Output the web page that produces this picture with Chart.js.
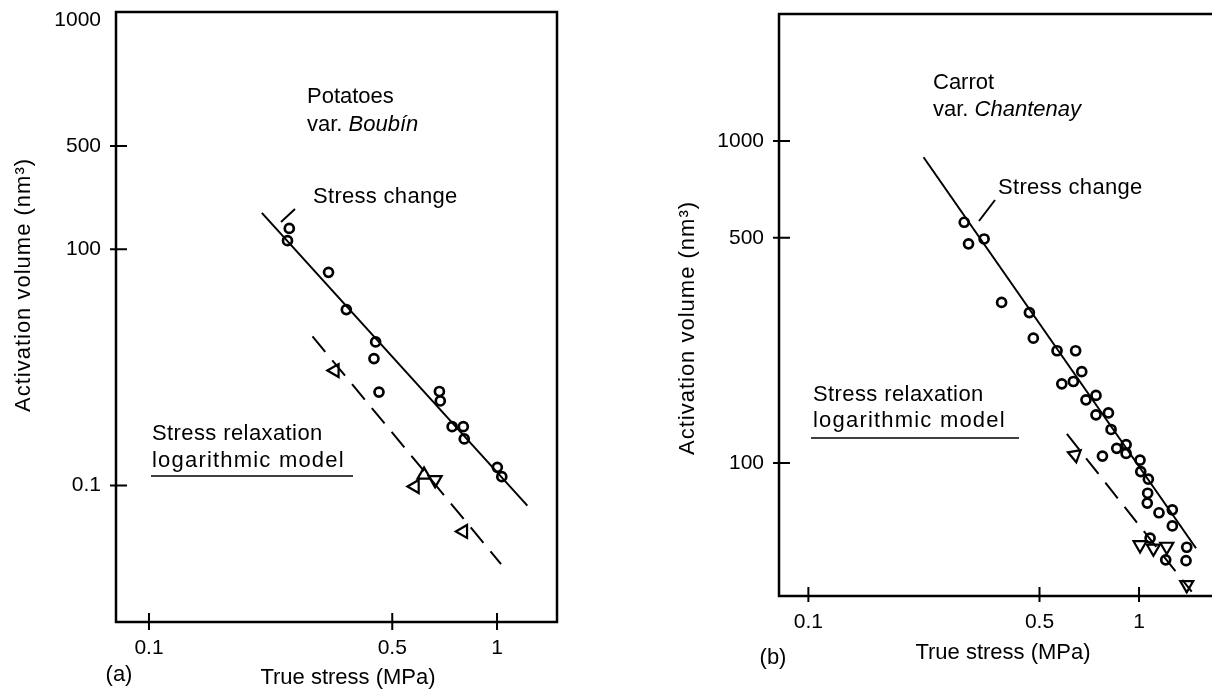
<!DOCTYPE html>
<html>
<head>
<meta charset="utf-8">
<script src="https://cdn.jsdelivr.net/npm/chart.js@4.4.0/dist/chart.umd.min.js"></script>
<style>
  body { margin: 0; background: #fff; overflow: hidden; width: 1212px; height: 690px; position: relative; }
  canvas { position: absolute; top: 0; }
  #chartA { left: 0; }
  #chartB { left: 606px; }
</style>
</head>
<body>
<canvas id="chartA" width="600" height="690"></canvas>
<canvas id="chartB" width="640" height="690"></canvas>
<script>
// (a) Potatoes var. Boubín -- true stress (MPa) vs activation volume (nm3)
const potatoCircleX = [0.253, 0.250, 0.328, 0.369, 0.448, 0.443, 0.458, 0.683, 0.687, 0.743, 0.800, 0.805, 1.002, 1.032];
const potatoCircleY = [138.4, 114.4, 69.8, 39.1, 23.6, 18.2, 10.8, 10.9, 9.4, 6.3, 6.3, 5.2, 3.34, 2.89];
const potatoTriX = [0.342, 0.581, 0.617, 0.664, 0.800];
const potatoTriY = [15.1, 2.48, 2.97, 2.75, 1.23];
const potatoTriTurn = [-90, -90, -120, 180, -90];
const potatoFitX = [0.211, 1.222];
const potatoFitY = [176.5, 1.84];
const potatoRelaxX = [0.295, 1.027];
const potatoRelaxY = [25.7, 0.74];

// (b) Carrot var. Chantenay
const carrotCircleX = [0.296, 0.305, 0.340, 0.384, 0.466, 0.479, 0.565, 0.643, 0.671, 0.633, 0.584, 0.741, 0.691, 0.808, 0.741, 0.823,
  0.914, 0.856, 0.914, 0.775, 1.007, 1.012, 1.067, 1.062, 1.059, 1.149, 1.261, 1.261, 1.080, 1.204, 1.394, 1.387];
const carrotCircleY = [559, 479, 496, 315, 293, 244, 223, 223, 192, 179, 176, 162, 157, 143, 141, 127,
  114, 111, 107, 105, 102, 94, 89, 80.5, 75, 70, 71.5, 63.7, 58.4, 50, 54.7, 49.7];
const carrotTriX = [0.640, 1.007, 1.105, 1.213, 1.394];
const carrotTriY = [105.9, 55.6, 54.3, 55.0, 41.8];
const carrotTriTurn = [170, 180, 180, 180, 180];
const carrotFitX = [0.223, 1.487];
const carrotFitY = [890, 54.3];
const carrotRelaxX = [0.605, 1.443];
const carrotRelaxY = [123, 39.8];

// tick labels (the printed y labels of panel (a) are not log-spaced, so they sit where the figure prints them)
const xTickVals = [0.1, 0.5, 1];
const xTickText = ['0.1', '0.5', '1'];
const potatoYTickVals = [3568, 500, 100, 2.515];
const potatoYTickText = ['1000', '500', '100', '0.1'];
const carrotYTickVals = [1000, 500, 100];
const carrotYTickText = ['1000', '500', '100'];

const FONT = '"Liberation Sans", Arial, sans-serif';
Chart.defaults.font.family = FONT;
Chart.defaults.color = '#000';

const zip = (xs, ys) => xs.map((x, i) => ({ x: x, y: ys[i] }));

function drawText(ctx, t) {
  ctx.save();
  ctx.translate(t.x, t.y);
  if (t.rot) ctx.rotate(t.rot);
  ctx.textBaseline = 'middle';
  ctx.textAlign = 'left';
  ctx.letterSpacing = (t.ls || 0) + 'px';
  const parts = t.parts || [{ s: t.s }];
  const fontOf = p => (p.italic ? 'italic ' : '') + (t.size || 22) + 'px ' + FONT;
  let w = 0;
  parts.forEach(p => { ctx.font = fontOf(p); w += ctx.measureText(p.s).width; });
  let x = t.align === 'center' ? -w / 2 : 0;
  parts.forEach(p => { ctx.font = fontOf(p); ctx.fillText(p.s, x, 0); x += ctx.measureText(p.s).width; });
  ctx.restore();
}

// frame, crossing tick marks and the printed notes
function figureMarks(o) {
  return {
    id: 'figureMarks',
    afterDraw(chart) {
      const { ctx, chartArea: a } = chart;
      const xs = chart.scales.x, ys = chart.scales.y;
      ctx.save();
      ctx.strokeStyle = '#000';
      ctx.fillStyle = '#000';
      ctx.lineWidth = 2.5;
      ctx.strokeRect(a.left, a.top, a.right - a.left, a.bottom - a.top);
      ctx.lineWidth = 2;
      ctx.beginPath();
      xs.ticks.forEach(t => {
        const px = xs.getPixelForValue(t.value);
        ctx.moveTo(px, a.bottom - o.xIn); ctx.lineTo(px, a.bottom + o.xOut);
      });
      ys.ticks.forEach((t, i) => {
        if (!o.yMark[i]) return;
        const py = ys.getPixelForValue(t.value);
        ctx.moveTo(a.left - o.yOut, py); ctx.lineTo(a.left + o.yIn, py);
      });
      ctx.stroke();
      o.lines.forEach(l => {
        ctx.lineWidth = l.w;
        ctx.beginPath(); ctx.moveTo(l.x1, l.y1); ctx.lineTo(l.x2, l.y2); ctx.stroke();
      });
      o.texts.forEach(t => drawText(ctx, t));
      ctx.restore();
    }
  };
}

// no extra room for overhanging tick labels: the frame goes exactly where the padding says
function noOverhang(s) {
  s.paddingTop = 0; s.paddingBottom = 0; s.paddingLeft = 0; s.paddingRight = 0;
}

function makePanel(id, p) {
  const pts = { borderColor: '#000', backgroundColor: 'rgba(0,0,0,0)' };
  return new Chart(document.getElementById(id), {
    type: 'scatter',
    data: {
      datasets: [
        { data: zip(p.circX, p.circY), pointStyle: 'circle', pointRadius: 4.5, borderWidth: 2.7, ...pts },
        { data: zip(p.triX, p.triY), pointStyle: 'triangle', pointRadius: 7.5, pointRotation: p.triTurn, borderWidth: 2.2, ...pts },
        { data: zip(p.fitX, p.fitY), showLine: true, pointRadius: 0, borderWidth: 2, borderColor: '#000' },
        { data: zip(p.relX, p.relY), showLine: true, pointRadius: 0, borderWidth: 2, borderColor: '#000', borderDash: [20, 11] }
      ]
    },
    options: {
      responsive: false,
      animation: false,
      events: [],
      layout: { padding: p.pad },
      plugins: { legend: { display: false }, tooltip: { enabled: false } },
      scales: {
        x: {
          type: 'logarithmic', min: p.xMin, max: p.xMax,
          grid: { display: false }, border: { display: false },
          afterBuildTicks: s => { s.ticks = xTickVals.map(v => ({ value: v })); },
          afterFit: s => { s.height = p.xAxisH; noOverhang(s); },
          ticks: { autoSkip: false, maxRotation: 0, padding: 6, font: { size: 21 }, color: '#000',
                   callback: (v, i) => xTickText[i] }
        },
        y: {
          type: 'logarithmic', min: p.yMin, max: p.yMax,
          grid: { display: false }, border: { display: false },
          afterBuildTicks: s => { s.ticks = p.yVals.map(v => ({ value: v })); },
          afterFit: s => { s.width = p.yAxisW; noOverhang(s); },
          ticks: { autoSkip: false, padding: 7, font: { size: 21 }, color: '#000',
                   callback: (v, i) => p.yText[i] }
        }
      }
    },
    plugins: [figureMarks(p.marks)]
  });
}

makePanel('chartA', {
  circX: potatoCircleX, circY: potatoCircleY,
  triX: potatoTriX, triY: potatoTriY, triTurn: potatoTriTurn,
  fitX: potatoFitX, fitY: potatoFitY, relX: potatoRelaxX, relY: potatoRelaxY,
  xMin: 0.0804, xMax: 1.487, yMin: 0.3213, yMax: 4037,
  yVals: potatoYTickVals, yText: potatoYTickText,
  pad: { top: 12, right: 43, bottom: 0, left: 0 }, xAxisH: 68, yAxisW: 116,
  marks: {
    xIn: 9, xOut: 8, yIn: 11, yOut: 6, yMark: [false, true, true, true],
    lines: [
      { x1: 281, y1: 222, x2: 295, y2: 209, w: 2 },
      { x1: 151, y1: 476, x2: 353, y2: 476, w: 1.5 }
    ],
    texts: [
      { s: 'Potatoes', x: 307, y: 97 },
      { parts: [{ s: 'var. ' }, { s: 'Boubín', italic: true }], x: 307, y: 125 },
      { s: 'Stress change', x: 313, y: 197, ls: 0.3 },
      { s: 'Stress relaxation', x: 152, y: 434, ls: 0.4 },
      { s: 'logarithmic model', x: 152, y: 461, ls: 1.2 },
      { s: '(a)', x: 119, y: 675, align: 'center' },
      { s: 'True stress (MPa)', x: 348, y: 678, align: 'center' },
      { s: 'Activation volume (nm³)', x: 24, y: 285, align: 'center', rot: -Math.PI / 2, ls: 1 }
    ]
  }
});

makePanel('chartB', {
  circX: carrotCircleX, circY: carrotCircleY,
  triX: carrotTriX, triY: carrotTriY, triTurn: carrotTriTurn,
  fitX: carrotFitX, fitY: carrotFitY, relX: carrotRelaxX, relY: carrotRelaxY,
  xMin: 0.0815, xMax: 1.884, yMin: 38.6, yMax: 2479,
  yVals: carrotYTickVals, yText: carrotYTickText,
  pad: { top: 14, right: 16, bottom: 0, left: 0 }, xAxisH: 94, yAxisW: 173,
  marks: {
    xIn: 9, xOut: 6, yIn: 11, yOut: 6, yMark: [true, true, true],
    lines: [
      { x1: 389, y1: 200, x2: 373, y2: 221, w: 2 },
      { x1: 205, y1: 438, x2: 413, y2: 438, w: 1.5 }
    ],
    texts: [
      { s: 'Carrot', x: 327, y: 83 },
      { parts: [{ s: 'var. ' }, { s: 'Chantenay', italic: true }], x: 327, y: 110 },
      { s: 'Stress change', x: 392, y: 188, ls: 0.3 },
      { s: 'Stress relaxation', x: 207, y: 395, ls: 0.4 },
      { s: 'logarithmic model', x: 207, y: 421, ls: 1.2 },
      { s: '(b)', x: 167, y: 658, align: 'center' },
      { s: 'True stress (MPa)', x: 397, y: 653, align: 'center' },
      { s: 'Activation volume (nm³)', x: 82, y: 328, align: 'center', rot: -Math.PI / 2, ls: 1 }
    ]
  }
});
</script>
</body>
</html>
